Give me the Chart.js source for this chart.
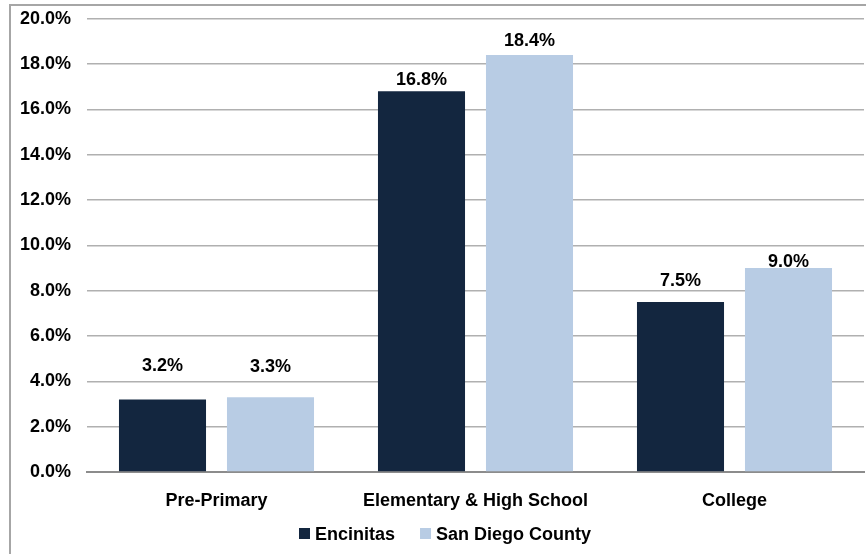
<!DOCTYPE html>
<html>
<head>
<meta charset="utf-8">
<script src="https://cdn.jsdelivr.net/npm/chart.js@4.4.1/dist/chart.umd.min.js"></script>
<style>
  html, body { margin: 0; padding: 0; background: #ffffff; overflow: hidden; }
  #page { position: relative; width: 866px; height: 554px; overflow: hidden; }
  #frame {
    position: absolute; left: 9px; top: 4px; width: 900px; height: 600px;
    border-left: 2px solid #a6a6a6; border-top: 2px solid #a6a6a6;
  }
  #c { position: absolute; left: 0; top: -8px; }
</style>
</head>
<body>
<div id="page">
  <div id="frame"></div>
  <canvas id="c" width="866" height="562"></canvas>
</div>
<script>
// Share of population enrolled, by school level
const categories = ['Pre-Primary', 'Elementary & High School', 'College'];
const encinitas = [3.2, 16.8, 7.5];
const sanDiegoCounty = [3.3, 18.4, 9.0];
const seriesNames = ['Encinitas', 'San Diego County'];
const yTicksMax = 20;
const yTickStep = 2;

// Pixel lift of each value label's baseline above its bar top
const labelLift = [[28, 6, 16], [25, 9, 1]];

const FONT = 'Liberation Sans, Arial, sans-serif';
const colors = ['#13263f', '#b8cce4'];

const valueLabels = {
  id: 'valueLabels',
  afterDatasetsDraw(chart) {
    const ctx = chart.ctx;
    ctx.save();
    ctx.font = 'bold 18px ' + FONT;
    ctx.fillStyle = '#000000';
    ctx.textAlign = 'center';
    ctx.textBaseline = 'alphabetic';
    chart.data.datasets.forEach((ds, di) => {
      const meta = chart.getDatasetMeta(di);
      meta.data.forEach((bar, i) => {
        ctx.fillText(ds.data[i].toFixed(1) + '%', bar.x, bar.y - labelLift[di][i]);
      });
    });
    ctx.restore();
  }
};

// Square-marker legend under the category labels
const squareLegend = {
  id: 'squareLegend',
  afterDraw(chart) {
    const ctx = chart.ctx;
    ctx.save();
    ctx.font = 'bold 18px ' + FONT;
    ctx.textBaseline = 'alphabetic';
    ctx.textAlign = 'left';
    const box = 11, gapText = 5, gapItem = 25, startX = 299;
    const baseY = chart.chartArea.bottom + 68;
    let x = startX;
    chart.data.datasets.forEach((d) => {
      ctx.fillStyle = d.backgroundColor;
      ctx.fillRect(x, baseY - 12, box, box);
      ctx.fillStyle = '#000000';
      ctx.fillText(d.label, x + box + gapText, baseY);
      x += box + gapText + ctx.measureText(d.label).width + gapItem;
    });
    ctx.restore();
  }
};

new Chart(document.getElementById('c'), {
  type: 'bar',
  data: {
    labels: categories,
    datasets: [
      { label: seriesNames[0], data: encinitas, backgroundColor: colors[0] },
      { label: seriesNames[1], data: sanDiegoCounty, backgroundColor: colors[1] }
    ]
  },
  options: {
    responsive: false,
    animation: false,
    devicePixelRatio: 1,
    categoryPercentage: 0.834,
    barPercentage: 0.806,
    layout: { padding: { top: 0, right: 2, bottom: 0, left: 0 } },
    plugins: {
      legend: { display: false },
      tooltip: { enabled: false },
      title: { display: false }
    },
    scales: {
      x: {
        afterFit(scale) { scale.height = 82; },
        grid: { display: false, drawTicks: false },
        border: { display: true, color: '#8c8c8c', width: 2 },
        ticks: {
          padding: 18,
          color: '#000000',
          font: { family: FONT, size: 18, weight: 'bold' }
        }
      },
      y: {
        min: 0,
        max: yTicksMax,
        afterFit(scale) { scale.width = 87; },
        grid: { color: '#b0b0b0', lineWidth: 1.5, drawTicks: false },
        border: { display: false },
        ticks: {
          stepSize: yTickStep,
          padding: 16,
          color: '#000000',
          font: { family: FONT, size: 18, weight: 'bold' },
          callback: v => v.toFixed(1) + '%'
        }
      }
    }
  },
  plugins: [valueLabels, squareLegend]
});
</script>
</body>
</html>
